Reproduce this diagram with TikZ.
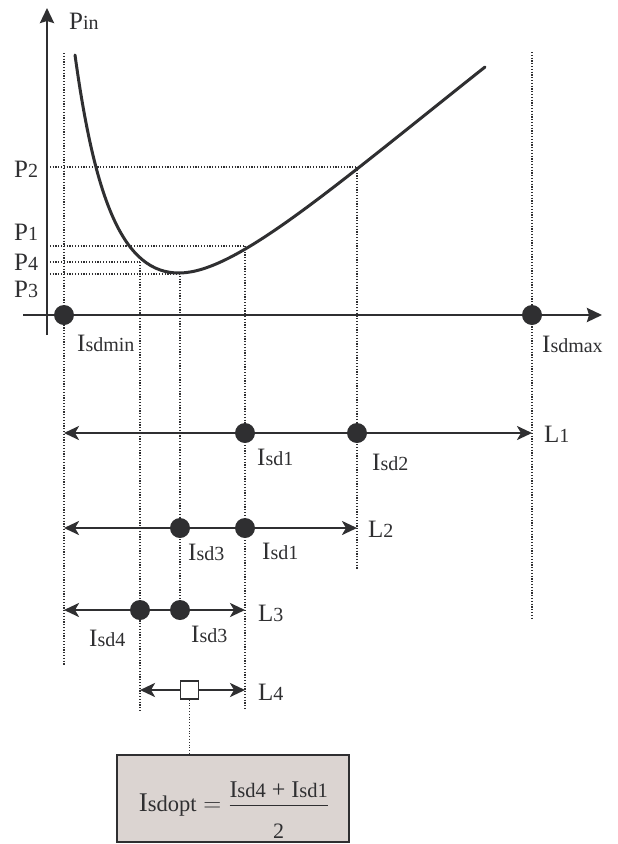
\documentclass[tikz,border=0pt]{standalone}
\usepackage{fontspec}
\setmainfont{Liberation Serif}
\usetikzlibrary{arrows.meta}
\definecolor{ink}{HTML}{2F2F31}
\definecolor{boxfill}{RGB}{219,212,209}
\newcommand{\lb}[2]{{\fontsize{25}{25}\selectfont #1}{\fontsize{20}{20}\selectfont #2}}
\newcommand{\fl}[2]{{\fontsize{24}{24}\selectfont #1}{\fontsize{20.5}{20.5}\selectfont #2}}
\begin{document}
\begin{tikzpicture}[x=1pt,y=-1pt,
  axis/.style={draw=ink,line width=2.6pt,-{Stealth[length=15pt,width=14pt,inset=2pt]}},
  lline/.style={draw=ink,line width=2.6pt,{Stealth[length=15pt,width=14pt,inset=4pt]}-{Stealth[length=15pt,width=14pt,inset=4pt]}},
  guide/.style={draw=ink,line width=1.2pt,dash pattern=on 1.1pt off 1.7pt},
  bigdot/.style={circle,fill=ink,inner sep=0pt,minimum size=20pt},
  lbl/.style={anchor=base west,inner sep=0pt,text=ink},
  curve/.style={draw=ink,line width=3pt,line cap=round}]
\useasboundingbox (0,0) rectangle (618,844);

% guide lines (vertical)
\draw[guide] (64,53) -- (64,665);
\draw[guide] (532,52) -- (532,620);
\draw[guide] (140,262) -- (140,712);
\draw[guide] (180,273) -- (180,610);
\draw[guide] (245,246) -- (245,710);
\draw[guide] (357,167) -- (357,570);
% guide lines (horizontal)
\draw[guide] (47,167) -- (357,167);
\draw[guide] (47,246) -- (245,246);
\draw[guide] (47,262) -- (140,262);
\draw[guide] (47,274) -- (180,274);

% axes
\coordinate (yb) at (47,335); \coordinate (yt) at (47,8);
\coordinate (xl) at (23,315); \coordinate (xr) at (602,315);
\draw[axis] (yb) -- (yt);
\draw[axis] (xl) -- (xr);

% curve
\draw[curve] (75,55) .. controls (95,200) and (123,274) .. (180,273)
  .. controls (236,272) and (330,190) .. (485,67);

% axis dots and labels
\node[bigdot] (dmin) at (64,315) {};
\node[bigdot] (dmax) at (532,315) {};
\node[lbl] (pin) at (69,29) {\lb{P}{in}};
\node[lbl] (p2) at (14,177) {\lb{P}{2}};
\node[lbl] (p1) at (14,240) {\lb{P}{1}};
\node[lbl] (p4) at (14,270) {\lb{P}{4}};
\node[lbl] (p3) at (14,297) {\lb{P}{3}};
\node[lbl] (lmin) at (77,351) {\lb{I}{sdmin}};
\node[lbl] (lmax) at (542,352) {\lb{I}{sdmax}};

% L1
\coordinate (a1) at (64,433); \coordinate (b1) at (532,433);
\draw[lline] (a1) -- (b1);
\node[bigdot] (l1d1) at (245,433) {};
\node[bigdot] (l1d2) at (357,433) {};
\node[lbl] (t11) at (257,465) {\lb{I}{sd1}};
\node[lbl] (t12) at (372,470) {\lb{I}{sd2}};
\node[lbl] (n1) at (544,442) {\lb{L}{1}};

% L2
\coordinate (a2) at (64,528); \coordinate (b2) at (357,528);
\draw[lline] (a2) -- (b2);
\node[bigdot] (l2d3) at (180,528) {};
\node[bigdot] (l2d1) at (245,528) {};
\node[lbl] (t23) at (188,560) {\lb{I}{sd3}};
\node[lbl] (t21) at (262,559) {\lb{I}{sd1}};
\node[lbl] (n2) at (368,537) {\lb{L}{2}};

% L3
\coordinate (a3) at (64,610); \coordinate (b3) at (245,610);
\draw[lline] (a3) -- (b3);
\node[bigdot] (l3d4) at (140,610) {};
\node[bigdot] (l3d3) at (180,610) {};
\node[lbl] (t34) at (89,646) {\lb{I}{sd4}};
\node[lbl] (t33) at (191,642) {\lb{I}{sd3}};
\node[lbl] (n3) at (258,621) {\lb{L}{3}};

% L4
\coordinate (a4) at (140,690); \coordinate (b4) at (245,690);
\draw[lline] (a4) -- (b4);
\node[draw=ink,fill=white,line width=1.5pt,minimum size=18pt,inner sep=0pt] (opt) at (189.5,690) {};
\node[lbl] (n4) at (258,700) {\lb{L}{4}};

% result box
\node[draw=ink,fill=boxfill,line width=1.3pt,minimum width=232pt,minimum height=87pt,inner sep=0pt] (box) at (233,798.5) {};
\draw[guide] (opt.south) -- (opt.south |- box.north);
\node[anchor=base,inner sep=0pt,text=ink,font=\fontsize{24}{28}\selectfont] (formula) at (234,811)
  {$\mbox{{\fontsize{27}{27}\selectfont I}{\fontsize{22.5}{22.5}\selectfont sdopt}} = \displaystyle\frac{\raisebox{-3pt}[0pt][0pt]{\mbox{\fl{I}{sd4}} + \mbox{\fl{I}{sd1}}}}{\raisebox{-10pt}[0pt][0pt]{\fontsize{22}{22}\selectfont 2}}$};
\end{tikzpicture}
\end{document}
